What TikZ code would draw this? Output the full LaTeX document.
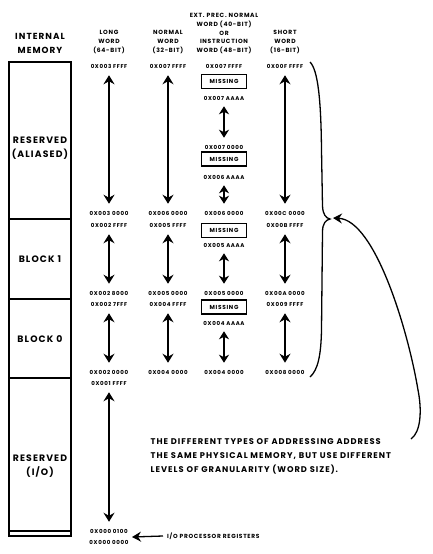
\documentclass[tikz,border=0pt]{standalone}
\usepackage{fontspec}
\setmainfont{Poppins}[LetterSpace=12]
\usetikzlibrary{arrows.meta}

\tikzset{
  memline/.style={line width=1.6pt},
  memlabel/.style={font=\bfseries\fontsize{9.3}{14.5}\selectfont, align=center, inner sep=0pt},
  bighdr/.style={font=\bfseries\fontsize{8.8}{14}\selectfont, align=center, inner sep=0pt},
  hdr/.style={font=\bfseries\fontsize{6}{8.7}\selectfont, align=center, inner sep=0pt},
  addr/.style={font=\bfseries\fontsize{5.5}{6}\selectfont, inner sep=0pt},
  missing/.style={draw, line width=1.5pt, minimum width=45pt, minimum height=14pt, inner sep=0pt,
    font=\bfseries\fontsize{5.8}{6}\selectfont},
  addrspan/.style={{Stealth[length=9pt,width=11pt,inset=3pt]}-{Stealth[length=9pt,width=11pt,inset=3pt]},
    line width=1.3pt, shorten <=7pt, shorten >=7pt},
  subspan/.style={{Stealth[length=8pt,width=10pt,inset=2.5pt]}-{Stealth[length=8pt,width=10pt,inset=2.5pt]},
    line width=1.8pt, shorten <=6pt, shorten >=7pt},
  notetext/.style={font=\bfseries\fontsize{8.3}{14}\selectfont, align=left, inner sep=0pt},
  curly/.style={line width=1.3pt},
  pointer/.style={-{Stealth[length=9pt,width=10pt,inset=3pt]}, line width=1.3pt},
}

\begin{document}
\begin{tikzpicture}[x=1pt,y=-1pt]
\useasboundingbox (0,0) rectangle (432,554);

%% internal memory
\draw[memline] (9,62) rectangle (71,536);
\draw[memline] (9,219) -- (71,219);
\draw[memline] (9,299) -- (71,299);
\draw[memline] (9,378) -- (71,378);
\draw[memline] (9,531) -- (71,531);

\node[bighdr] (h-mem) at (40,43) {INTERNAL\\MEMORY};
\node[memlabel] (m-alias) at (40,148) {RESERVED\\(ALIASED)};
\node[memlabel] (m-blk1) at (40,259) {BLOCK 1};
\node[memlabel] (m-blk0) at (40,339) {BLOCK 0};
\node[memlabel] (m-io) at (40,466) {RESERVED\\(I/O)};

%% headers
\node[hdr] (h-long) at (109,42) {LONG\\WORD\\(64-BIT)};
\node[hdr] (h-norm) at (168,42) {NORMAL\\WORD\\(32-BIT)};
\node[hdr] (h-ext) at (224,33.5) {EXT. PREC. NORMAL\\WORD (40-BIT)\\OR\\INSTRUCTION\\WORD (48-BIT)};
\node[hdr] (h-short) at (285,42) {SHORT\\WORD\\(16-BIT)};

%% long word
\node[addr] (L3FFFF) at (109,66) {0X003 FFFF};
\node[addr] (L30000) at (109,213) {0X003 0000};
\node[addr] (L2FFFF) at (109,225) {0X002 FFFF};
\node[addr] (L28000) at (109,293) {0X002 8000};
\node[addr] (L27FFF) at (109,304) {0X002 7FFF};
\node[addr] (L20000) at (109,372) {0X002 0000};
\node[addr] (L1FFFF) at (109,383) {0X001 FFFF};
\node[addr] (L00100) at (109,531) {0X000 0100};
\node[addr] (L00000) at (109,542) {0X000 0000};

\draw[addrspan] (L3FFFF) -- (L30000);
\draw[addrspan] (L2FFFF) -- (L28000);
\draw[addrspan] (L27FFF) -- (L20000);
\draw[addrspan] (L1FFFF) -- (L00100);

%% normal word
\node[addr] (N7FFFF) at (168,66) {0X007 FFFF};
\node[addr] (N60000) at (168,213) {0X006 0000};
\node[addr] (N5FFFF) at (168,225) {0X005 FFFF};
\node[addr] (N50000) at (168,293) {0X005 0000};
\node[addr] (N4FFFF) at (168,304) {0X004 FFFF};
\node[addr] (N40000) at (168,372) {0X004 0000};

\draw[addrspan] (N7FFFF) -- (N60000);
\draw[addrspan] (N5FFFF) -- (N50000);
\draw[addrspan] (N4FFFF) -- (N40000);

%% ext. prec. / instruction word
\node[addr] (E7FFFF) at (224,66) {0X007 FFFF};
\node[missing] (E7miss) at (224,81.5) {MISSING};
\node[addr] (E7AAAA) at (224,98) {0X007 AAAA};
\node[addr] (E70000) at (224,147) {0X007 0000};
\node[missing] (E6miss) at (224,159) {MISSING};
\node[addr] (E6AAAA) at (224,177) {0X006 AAAA};
\node[addr] (E60000) at (224,213) {0X006 0000};
\node[missing] (E5miss) at (224,230.5) {MISSING};
\node[addr] (E5AAAA) at (224,245) {0X005 AAAA};
\node[addr] (E50000) at (224,293) {0X005 0000};
\node[missing] (E4miss) at (224,307) {MISSING};
\node[addr] (E4AAAA) at (224,323) {0X004 AAAA};
\node[addr] (E40000) at (224,372) {0X004 0000};

\draw[subspan] (E7AAAA) -- (E70000);
\draw[subspan] (E6AAAA) -- (E60000);
\draw[subspan] (E5AAAA) -- (E50000);
\draw[subspan] (E4AAAA) -- (E40000);

%% short word
\node[addr] (SFFFFF) at (285,66) {0X00F FFFF};
\node[addr] (SC0000) at (285,213) {0X00C 0000};
\node[addr] (SBFFFF) at (285,225) {0X00B FFFF};
\node[addr] (SA0000) at (285,293) {0X00A 0000};
\node[addr] (S9FFFF) at (285,304) {0X009 FFFF};
\node[addr] (S80000) at (285,372) {0X008 0000};

\draw[addrspan] (SFFFFF) -- (SC0000);
\draw[addrspan] (SBFFFF) -- (SA0000);
\draw[addrspan] (S9FFFF) -- (S80000);

%% brace and note
\coordinate (bracetop) at (310,62);
\coordinate (bracetip) at (330,219);
\coordinate (bracebot) at (310,377);
\draw[curly] (bracetop) .. controls (318,70) and (321,100) .. (321.5,150)
  -- (322.5,206) .. controls (323,215) and (326,218) .. (bracetip)
  .. controls (326,220) and (322.5,223) .. (322.5,232)
  -- (321.5,330) .. controls (321,355) and (318,370) .. (bracebot);

\node[notetext, anchor=north west] (note) at (150.5,438) {THE DIFFERENT TYPES OF ADDRESSING ADDRESS\\THE SAME PHYSICAL MEMORY, BUT USE DIFFERENT\\LEVELS OF GRANULARITY (WORD SIZE).};

\coordinate (notehook) at (411,439);
\coordinate (bracepoint) at (333,218);
\draw[pointer] (notehook) .. controls (421,432) and (422,410) .. (418,390)
  .. controls (408,330) and (375,220) .. (bracepoint);

%% i/o registers
\node[addr, font=\bfseries\fontsize{5.9}{6}\selectfont, anchor=west] (iotext) at (167,536) {I/O PROCESSOR REGISTERS};
\coordinate (iotip) at (132,537);
\draw[pointer] (iotext.west) ++(-4,0) -- (iotip);

\end{tikzpicture}
\end{document}
